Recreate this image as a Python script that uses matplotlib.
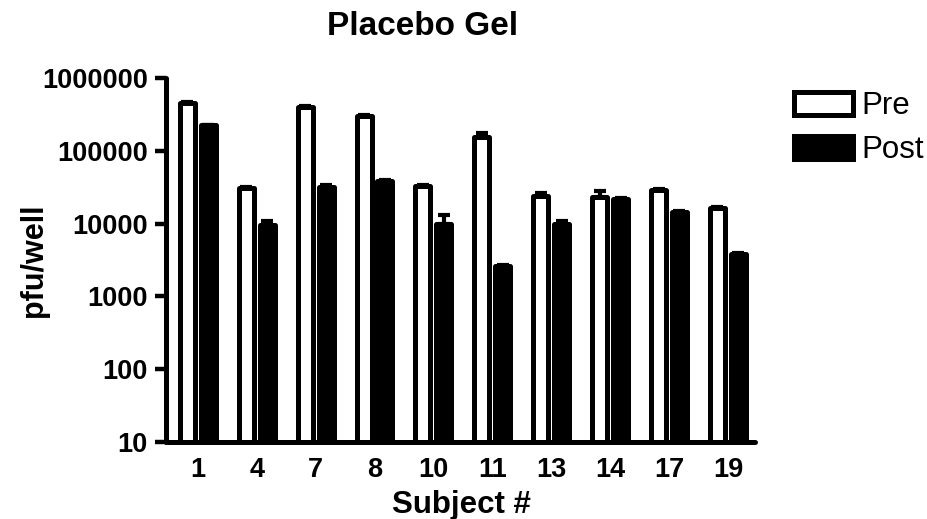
import matplotlib
matplotlib.use("Agg")
import matplotlib.pyplot as plt
import numpy as np
from matplotlib.patches import Patch

plt.rcParams['font.family'] = ['Liberation Sans', 'DejaVu Sans']

subjects = ["1", "4", "7", "8", "10", "11", "13", "14", "17", "19"]
pre_values = [455000, 30500, 403000, 303000, 32400, 153000, 23700, 23400, 28900, 16200]
post_values = [223000, 9500, 31500, 38900, 9800, 2600, 9870, 21700, 14500, 3830]
pre_err = [15000, 1200, 12000, 10000, 1200, 23000, 2600, 4800, 1000, 600]
post_err = [6000, 1500, 2000, 1200, 3200, 100, 900, 700, 400, 150]

fig = plt.figure(figsize=(9.28, 5.19), dpi=100)
ax = fig.add_axes([166/928, 1-442/519, (755-166)/928, 364/519])

x = np.arange(len(subjects))
w = 0.255
off = 0.178
lw = 3.6

ax.errorbar(x - off, pre_values, yerr=[np.zeros(len(x)), pre_err], fmt='none',
            ecolor='black', elinewidth=3, capsize=4.3, capthick=3, zorder=1)
ax.errorbar(x + off, post_values, yerr=[np.zeros(len(x)), post_err], fmt='none',
            ecolor='black', elinewidth=3, capsize=4.3, capthick=3, zorder=1)
ax.bar(x - off, pre_values, width=w, bottom=10, color='white', edgecolor='black',
       linewidth=lw, joinstyle='round', zorder=2)
ax.bar(x + off, post_values, width=w, bottom=10, color='black', edgecolor='black',
       linewidth=lw, joinstyle='round', zorder=2)

ax.set_yscale('log')
ax.set_ylim(10, 1000000)
ax.set_xlim(-0.54, 9.46)
ax.set_yticks([10, 100, 1000, 10000, 100000, 1000000])
ax.set_yticklabels(["10", "100", "1000", "10000", "100000", "1000000"])
ax.yaxis.set_minor_locator(matplotlib.ticker.NullLocator())
ax.set_xticks(x)
ax.set_xticklabels(subjects)

for lab in ax.get_yticklabels() + ax.get_xticklabels():
    lab.set_fontweight('bold')
    lab.set_fontsize(19.5)

ax.tick_params(axis='y', direction='out', length=8, width=3.2, pad=5)
ax.tick_params(axis='x', length=0, pad=11)
for s in ['top', 'right']:
    ax.spines[s].set_visible(False)
for s in ['left', 'bottom']:
    ax.spines[s].set_linewidth(3.6)
    ax.spines[s].set_capstyle('round')

fig.text(423/928, 1-35/519, "Placebo Gel", ha='center', va='baseline',
         fontsize=24, fontweight='bold')
fig.text(34/928, 0.5 * ((1-442/519) + (1-78/519)), "pfu/well", rotation=90,
         ha='center', va='center', fontsize=22, fontweight='bold')
fig.text(461/928, 1-513/519, "Subject #", ha='center', va='baseline',
         fontsize=22.5, fontweight='bold')

handles = [Patch(facecolor='white', edgecolor='black', linewidth=3.6, label='Pre'),
           Patch(facecolor='black', edgecolor='black', linewidth=3.6, label='Post')]
fig.legend(handles=handles, loc='upper left', bbox_to_anchor=(794/928, 1-91/519),
           frameon=False, fontsize=22.5, handlelength=1.9, handleheight=0.75,
           handletextpad=0.25, labelspacing=0.45, borderpad=0, borderaxespad=0)

fig.savefig("out.png", dpi=100)
